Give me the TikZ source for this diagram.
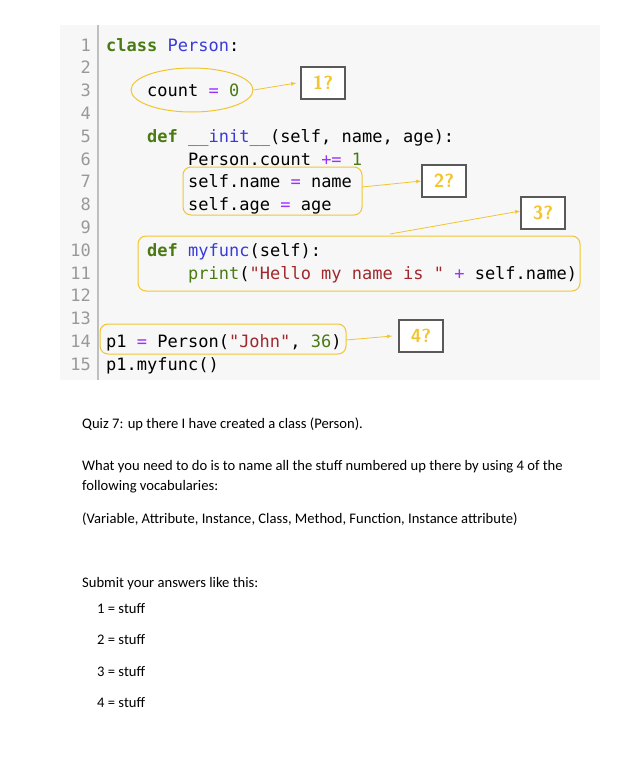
\documentclass[tikz,border=0pt]{standalone}
\usepackage{fontspec}
\setmainfont{Carlito}
\setmonofont{DejaVu Sans Mono}
\usetikzlibrary{shapes.geometric}
\definecolor{codebg}{HTML}{F7F7F7}
\definecolor{kw}{HTML}{4A7A12}
\definecolor{nm}{HTML}{3A3ADB}
\definecolor{op}{HTML}{9B30FF}
\definecolor{str}{HTML}{A0282C}
\definecolor{mark}{HTML}{F2C530}
\definecolor{lnum}{HTML}{999999}
\newcommand{\K}[1]{\textcolor{kw}{\bfseries #1}}
\newcommand{\N}[1]{\textcolor{nm}{#1}}
\newcommand{\Op}[1]{\textcolor{op}{#1}}
\newcommand{\St}[1]{\textcolor{str}{#1}}
\newcommand{\Nu}[1]{\textcolor{kw}{#1}}

\begin{document}
\begin{tikzpicture}[x=1pt,y=-1pt,
    code/.style={anchor=base west, inner sep=0pt, font=\ttfamily\fontsize{17}{18}\selectfont},
    lno/.style={anchor=base east, inner sep=0pt, text=lnum, font=\ttfamily\fontsize{17}{18}\selectfont},
    qbox/.style={draw=gray!70!black, line width=1.3pt, fill=white, minimum width=44pt, minimum height=32pt, inner sep=0pt, text=mark, font=\sffamily\bfseries\fontsize{19}{20}\selectfont},
    hl/.style={draw=mark, line width=1pt, rounded corners=8pt},
    pt/.style={draw=mark, line width=0.8pt, -latex},
    txt/.style={anchor=base west, inner sep=0pt, font=\fontsize{14.6}{16}\selectfont}]
    \useasboundingbox (0,0) rectangle (640,769);
    % code panel
    \fill[codebg] (60,25) rectangle (600,380);
    \draw[lightgray, line width=1.5pt] (98,25) -- (98,380);
    \foreach \i in {1,...,15}
        \node[lno] at (91,{45+(\i-1)*22.8+6}) {\i};
    % code lines
    \node[code] (l1) at (106,51) {\K{class} \N{Person}:};
    \node[code] (l3) at (147,96.6) {count \Op{=} \Nu{0}};
    \node[code] (l5) at (147,142.2) {\K{def} \N{\_\_init\_\_}(self, name, age):};
    \node[code] (l6) at (188,165) {Person.count \Op{+=} \Nu{1}};
    \node[code] (l7) at (188,187.8) {self.name \Op{=} name};
    \node[code] (l8) at (188,210.6) {self.age \Op{=} age};
    \node[code] (l10) at (147,256.2) {\K{def} \N{myfunc}(self):};
    \node[code] (l11) at (188,279) {\Nu{print}(\St{"Hello my name is "} \Op{+} self.name)};
    \node[code] (l14) at (106,347.4) {p1 \Op{=} Person(\St{"John"}, \Nu{36})};
    \node[code] (l15) at (106,370.2) {p1.myfunc()};
    % highlights
    \node[draw=mark, line width=1pt, ellipse, minimum width=122pt, minimum height=44pt] (e1) at (192,90) {};
    \draw[hl] (183,167) rectangle (362,215);
    \coordinate (h2) at (362,187);
    \draw[hl] (138,236) rectangle (580,291);
    \coordinate (h3) at (390,234);
    \draw[hl] (100,324) rectangle (346,354);
    \coordinate (h4) at (346,340);
    % question boxes
    \node[qbox] (q1) at (323,83) {1?};
    \node[qbox] (q2) at (444,181) {2?};
    \node[qbox] (q3) at (543,213) {3?};
    \node[qbox] (q4) at (421,336) {4?};
    \draw[pt] (e1.east) -- ([xshift=-4pt]q1.west);
    \draw[pt] (h2) -- (q2.west);
    \draw[pt] (h3) -- ([yshift=2pt]q3.west);
    \draw[pt] (h4) -- ([xshift=-6pt]q4.west);
    % question text
    \node[txt] (t1) at (82,428) {Quiz 7: up there I have created a class (Person).};
    \node[txt] (t2) at (82,470) {What you need to do is to name all the stuff numbered up there by using 4 of the};
    \node[txt] (t3) at (82,490) {following vocabularies:};
    \node[txt] (t4) at (82,523) {(Variable, Attribute, Instance, Class, Method, Function, Instance attribute)};
    \node[txt] (t5) at (82,587) {Submit your answers like this:};
    \foreach \i/\y in {1/613,2/644,3/676,4/707}
        \node[txt] (a\i) at (97,\y) {\i{} = stuff};
\end{tikzpicture}
\end{document}
